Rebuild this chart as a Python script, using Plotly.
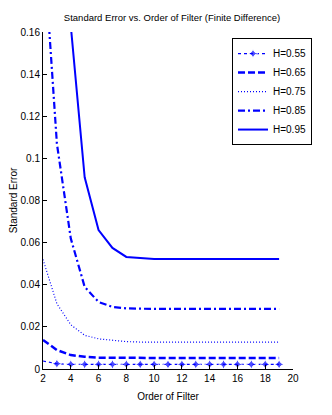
import plotly.graph_objects as go

# ===== 数据 =====
ORDER = list(range(2, 20))

H055 = [0.0038, 0.0025] + [0.0022] * 16
H065 = [0.0138, 0.0090, 0.0066, 0.0058, 0.0054, 0.0053] + [0.0052] * 12
H075 = [0.0520, 0.0310, 0.0210, 0.0160, 0.0143, 0.0135, 0.0130] + [0.0128] * 11
H085 = [0.2050, 0.1070, 0.0620, 0.0390, 0.0318, 0.0295, 0.0288] + [0.0285] * 11
H095 = [0.6000, 0.3000, 0.1630, 0.0910, 0.0660, 0.0575, 0.0532, 0.0527] + [0.0522] * 10

Y_TICKS = [0, 0.02, 0.04, 0.06, 0.08, 0.1, 0.12, 0.14, 0.16]
Y_LABELS = ["0", "0.02", "0.04", "0.06", "0.08", "0.1", "0.12", "0.14", "0.16"]
X_TICKS = [2, 4, 6, 8, 10, 12, 14, 16, 18, 20]

BLUE = "#0000ff"
FONT = "Liberation Sans Narrow, Arial Narrow, Liberation Sans, sans-serif"

# 页面 body 默认有 8px 边距，尺寸按此扣除
W, H = 316, 399

fig = go.Figure()

fig.add_trace(go.Scatter(
    x=ORDER, y=H055, mode="lines+markers", name="H=0.55",
    line=dict(color=BLUE, width=1.2, dash="dot"),
    marker=dict(symbol="star-diamond", size=[0] + [7] * 17, color=BLUE),
))
fig.add_trace(go.Scatter(
    x=ORDER, y=H065, mode="lines", name="H=0.65",
    line=dict(color=BLUE, width=2.5, dash="7px,3px"),
))
fig.add_trace(go.Scatter(
    x=ORDER, y=H075, mode="lines", name="H=0.75",
    line=dict(color=BLUE, width=1.2, dash="1px,2px"),
))
fig.add_trace(go.Scatter(
    x=ORDER, y=H085, mode="lines", name="H=0.85",
    line=dict(color=BLUE, width=2.2, dash="7px,3px,2px,3px"),
))
fig.add_trace(go.Scatter(
    x=ORDER, y=H095, mode="lines", name="H=0.95",
    line=dict(color=BLUE, width=2),
))

fig.update_layout(
    width=W, height=H,
    paper_bgcolor="white", plot_bgcolor="white",
    margin=dict(l=35, r=23, t=24, b=38),
    font=dict(family=FONT, size=10, color="black"),
    title=dict(
        text="Standard Error vs. Order of Filter (Finite Difference)",
        x=0.519, xanchor="center", y=0.977, yanchor="middle",
        font=dict(size=9.5),
    ),
    showlegend=True,
    legend=dict(
        x=0.756, y=0.982, xanchor="left", yanchor="top",
        bordercolor="black", borderwidth=1, bgcolor="white",
        font=dict(size=10), itemwidth=30, tracegroupgap=0,
    ),
    xaxis=dict(
        range=[2, 20], tickvals=X_TICKS, showline=True, linecolor="black",
        linewidth=1, mirror=False, ticks="inside", ticklen=4, tickcolor="black",
        showgrid=False, zeroline=False, automargin=False,
        title=dict(text="Order of Filter", standoff=9, font=dict(size=10)),
    ),
    yaxis=dict(
        range=[0, 0.16], tickvals=Y_TICKS, ticktext=Y_LABELS, showline=True,
        linecolor="black", linewidth=1, mirror=False, ticks="inside", ticklen=4,
        tickcolor="black", showgrid=False, zeroline=False, automargin=False,
        title=dict(text="Standard Error", standoff=3, font=dict(size=10)),
    ),
)

fig.write_html("out.html")
